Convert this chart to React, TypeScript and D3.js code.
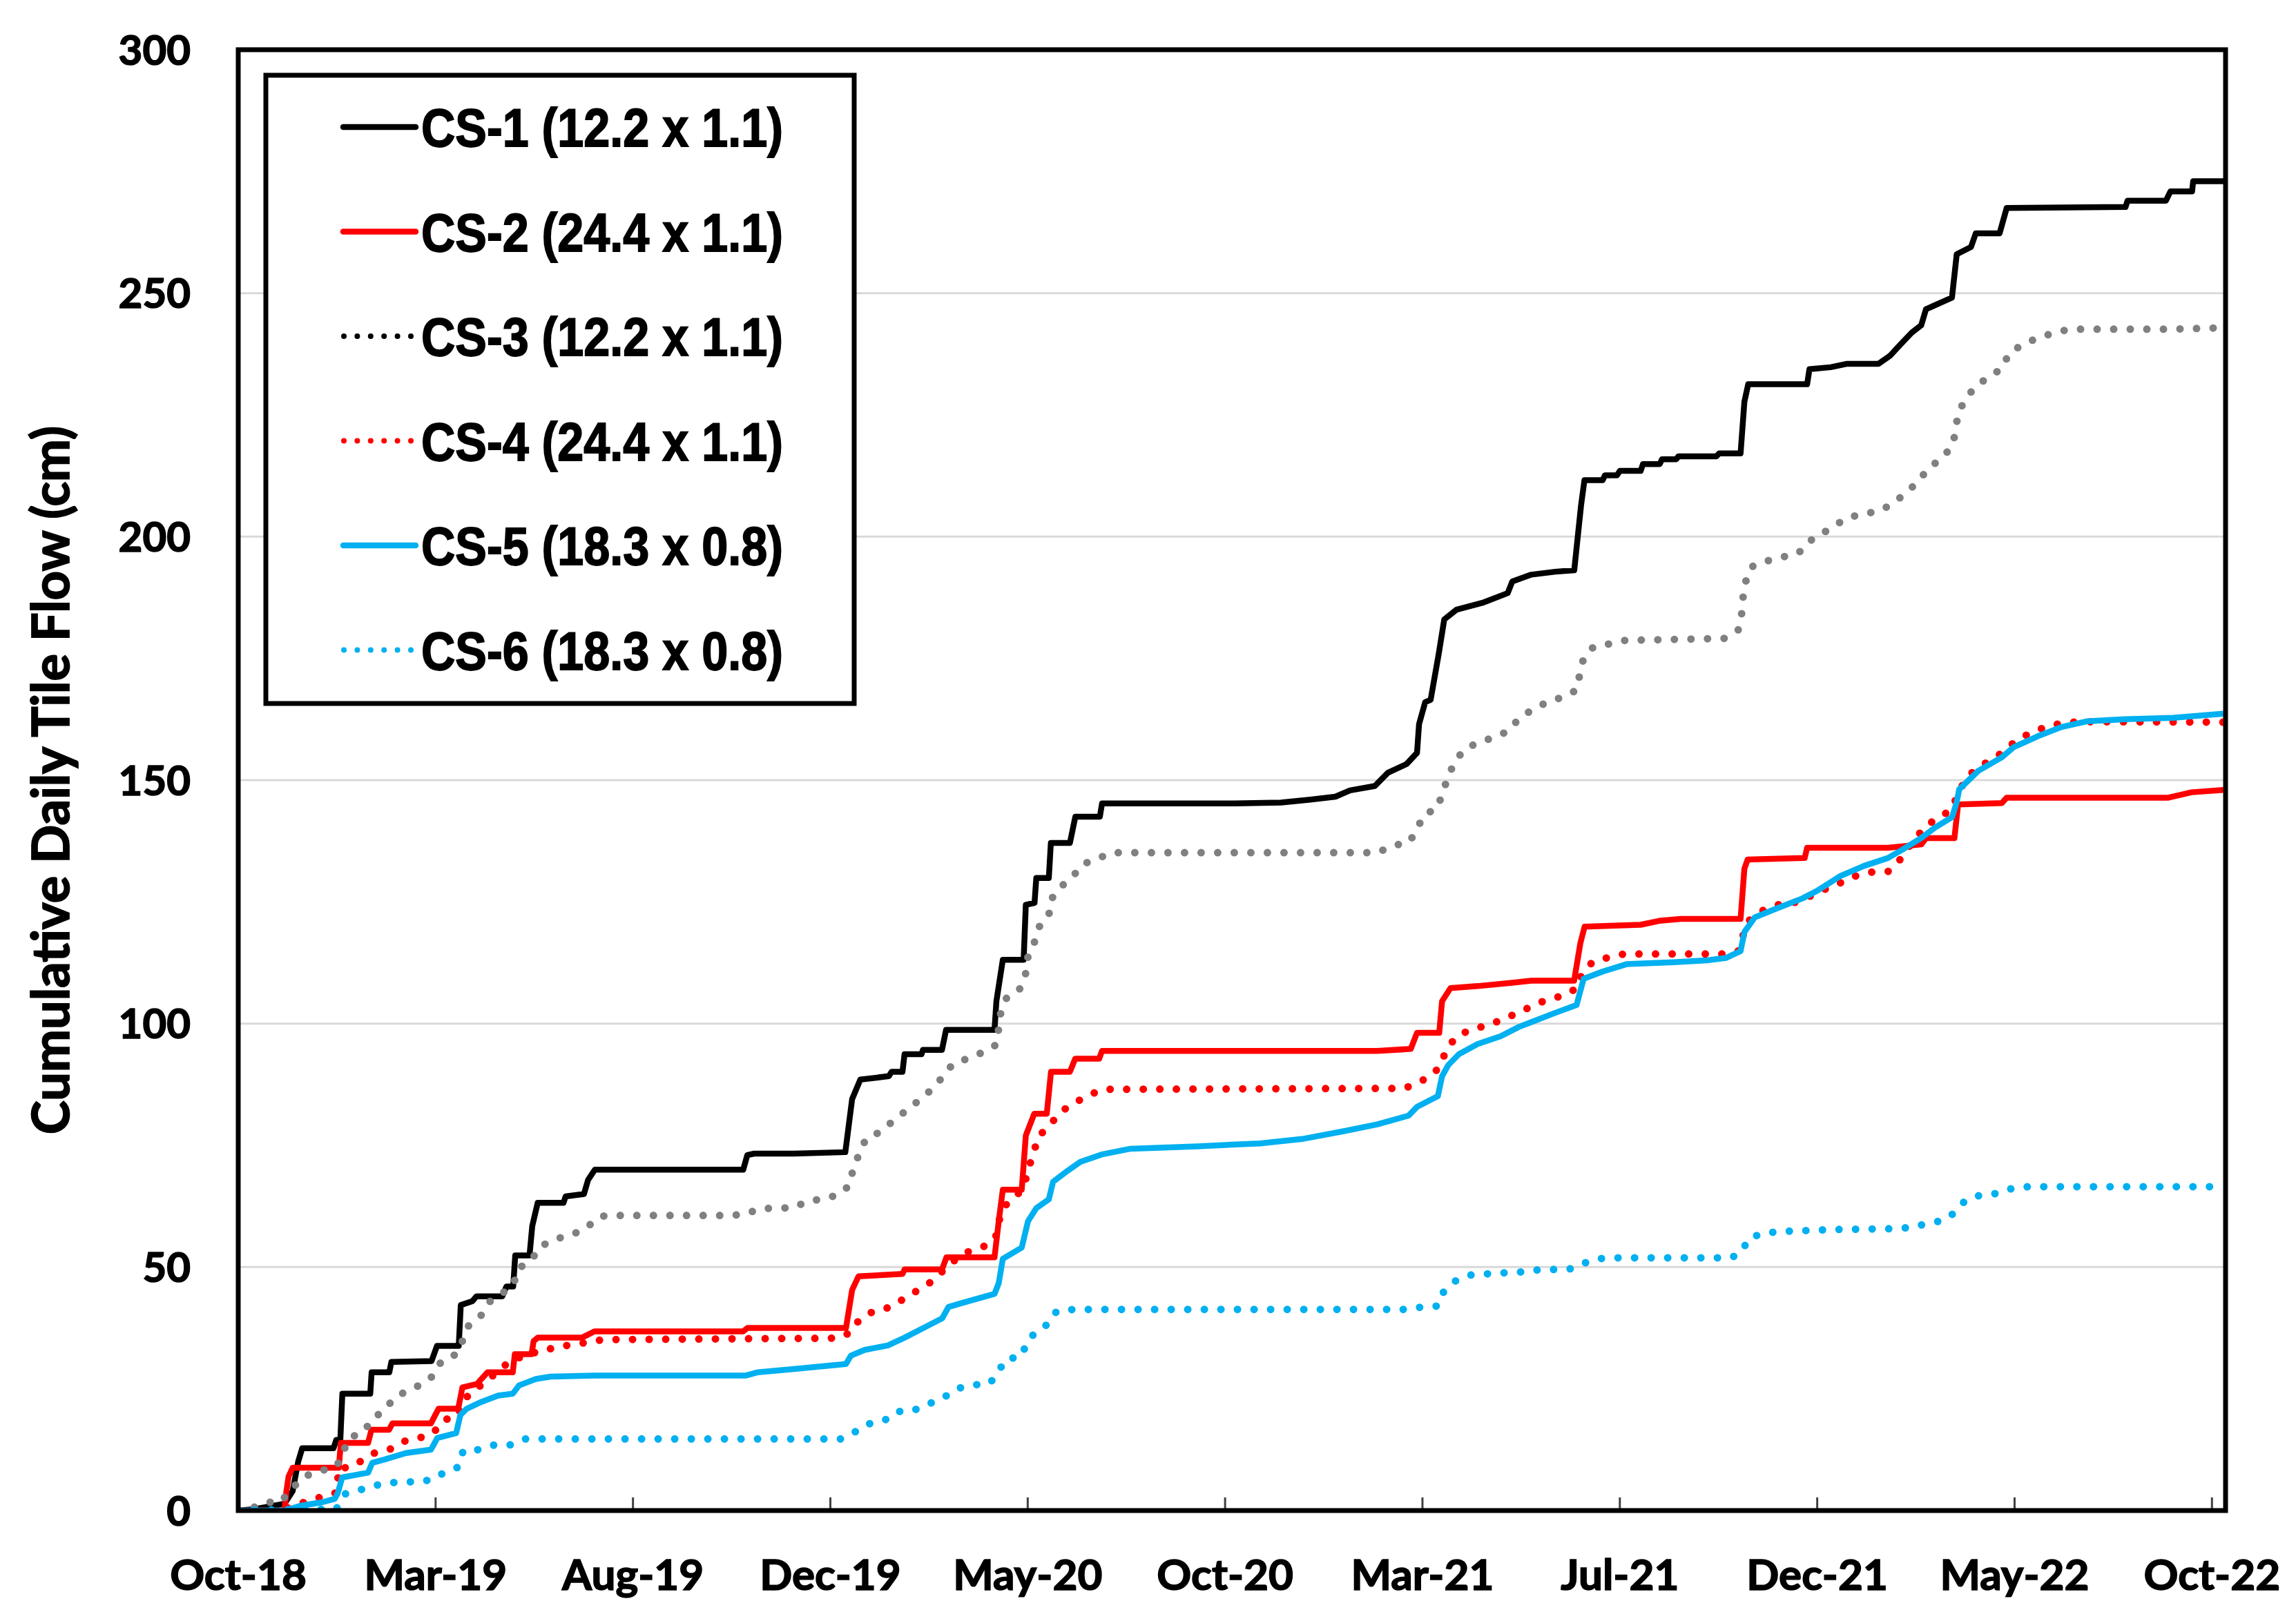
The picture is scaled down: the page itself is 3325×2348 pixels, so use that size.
import React from "react";
import * as d3 from "d3";

// Days since the axis start (17 Oct 2018) and cumulative tile flow (cm)
const START = new Date(2018, 9, 17);
const AXIS_DAYS = 1460;
const tickDays = [0, 145, 290, 435, 580, 725, 870, 1015, 1160, 1305, 1450];
const tickLabels = ["Oct-18", "Mar-19", "Aug-19", "Dec-19", "May-20", "Oct-20", "Mar-21", "Jul-21", "Dec-21", "May-22", "Oct-22"];
const yTicks = [0, 50, 100, 150, 200, 250, 300];

const cs1: [number, number][] = [[0,0],[12,0.3],[34,1.4],[40,4],[44,10],[47,12.8],[70,12.8],[72,14.5],[75,14.5],[76.5,24],[97,24],[98,28.4],[111,28.4],[112.5,30.5],[142,30.7],[146,33.8],[162,33.8],[163.5,42.2],[172,43],[175,44],[194,44],[197,46],[202,46],[203.5,52.4],[214,52.4],[216,58.4],[220,63.2],[239,63.2],[240.5,64.5],[254,65],[257,67.9],[262,70],[371,70],[374,73],[379,73.3],[408,73.3],[446,73.6],[451,84.5],[457,88.5],[478,89.2],[480,90.1],[488,90.1],[489.5,93.7],[502,93.7],[503,94.6],[517,94.6],[520,98.7],[555.6,98.7],[557,104.6],[561.7,113.1],[577,113.1],[578.6,124.4],[585,124.8],[586.3,129.9],[595.5,129.9],[597,137.1],[611,137.1],[615,142.5],[633,142.5],[634.6,145.2],[732,145.2],[766,145.4],[787.6,146],[806,146.6],[816.8,147.9],[835,148.8],[844.5,151.5],[858.3,153.3],[866,155.6],[867.5,161.5],[872,166],[876,166.5],[882,176],[886,183],[895,185],[915,186.5],[932.6,188.4],[936,190.8],[950,192.2],[967.5,192.8],[981.5,193.1],[986.5,206.4],[989,211.6],[1002.4,211.6],[1004,212.6],[1012.9,212.6],[1015,213.5],[1030.3,213.5],[1032,214.9],[1044.3,214.9],[1046,215.9],[1056.5,215.9],[1058,216.5],[1086,216.5],[1088,217.1],[1103.7,217.1],[1106.5,227.7],[1109.3,231.3],[1152.6,231.3],[1154.3,234.4],[1170,234.8],[1182,235.5],[1205,235.5],[1213.7,237.2],[1220.6,239.3],[1229.4,241.9],[1236.4,243.4],[1239.9,246.7],[1259,249.1],[1262.5,258],[1273,259.5],[1276.5,262.3],[1294,262.3],[1299.2,267.5],[1386.5,267.7],[1388,269],[1416.2,269],[1419.5,270.9],[1435.4,270.9],[1436.2,273],[1460,273]];

const cs2: [number, number][] = [[0,0],[34,0],[35.4,4],[37,7],[40,8.8],[73.9,8.8],[75.4,13.9],[95.4,13.9],[97.9,16.6],[110.8,16.6],[113.3,17.9],[141.6,17.9],[144.7,19.6],[147.2,20.9],[161.6,20.9],[164.7,25.3],[175.5,26],[178.6,27],[183.2,28.4],[201.7,28.4],[203.2,32.1],[215.5,32.1],[217,34.8],[220.1,35.5],[252.5,35.5],[261.7,36.8],[371,36.8],[374.1,37.5],[446.5,37.5],[451,45.3],[455.7,48.1],[488,48.6],[489.5,49.5],[517,49.5],[520.3,52],[555.6,52],[558.7,59.4],[561.7,65.9],[575.6,65.9],[578.6,77],[584.8,81.5],[594,81.5],[597.1,90.1],[611,90.1],[614.9,92.8],[632.5,92.8],[634.6,94.4],[836.8,94.4],[861.4,94.8],[866,98.1],[882.3,98.1],[884.4,104.6],[890.6,107.3],[910.5,107.7],[936,108.4],[950,108.8],[981.4,108.8],[986,116.5],[989.1,119.9],[1030.3,120.3],[1044,121.1],[1060,121.5],[1103.7,121.5],[1106.5,131.8],[1108.9,133.7],[1150.8,134],[1152.6,136.1],[1211.9,136.1],[1236.4,136.8],[1240,138.1],[1260.8,138.1],[1263.5,145],[1295.7,145.3],[1299.2,146.4],[1418,146.4],[1435,147.5],[1460,148]];

const cs3: [number, number][] = [[0,0],[10,0.5],[21.5,1.7],[31,1.7],[40,4.7],[49.3,7.1],[60,8.1],[72.4,9.1],[81.6,14.9],[92.4,16.2],[98.5,18.9],[107.8,20.6],[113.9,23],[124.7,24.7],[135.5,26],[143.2,27.7],[149.3,30.7],[160.1,32.1],[164.7,34.8],[168.7,37.8],[178,39.9],[184.7,42.9],[194,44.6],[202.3,46.5],[205.7,49.7],[215.5,51.4],[221.1,54.1],[232.5,55.7],[244.2,56.6],[254.9,57.8],[263.9,60.1],[270,60.6],[361.8,60.6],[372.6,60.9],[383.3,62],[408,62.2],[418.7,63.6],[431,64],[441.8,65],[449.5,66.9],[451.7,70.3],[456.3,73.3],[461.2,76.4],[472,77.8],[481,80],[491,82.2],[500,84.2],[509.5,86.5],[518,89.2],[524.9,91.7],[535.6,92.8],[547.9,94.2],[557.1,95.7],[558.7,99.1],[560.2,102.3],[564.8,105.5],[575,107.3],[578.6,110.4],[580.2,113.8],[584.8,116.6],[587.9,119.7],[595.5,122.2],[597.1,125.5],[604.8,128.2],[613.4,130.3],[620.1,132.7],[631.5,133.9],[641.6,135.1],[836.8,135.1],[848.5,136.6],[859.8,137.1],[866,139.8],[870.6,142.8],[881.3,144.3],[884.6,147.5],[889,150.6],[893,153.5],[900.4,156.2],[910.5,157.7],[922,158.7],[933.3,160.1],[941.3,162.8],[951,164.5],[962.2,166.1],[973.8,167.1],[983.2,168.5],[985.6,171.8],[988.4,175.1],[995.4,177.3],[1007.6,178],[1018.8,178.7],[1091.5,179.1],[1101.9,180.8],[1104.4,183.9],[1105.4,187.3],[1107.2,190.6],[1111.7,193.8],[1122.9,195],[1134.4,195.8],[1146.3,196.6],[1152.6,198.8],[1163,200.5],[1172.8,202.3],[1183.3,204],[1195.2,204.7],[1206.7,205.4],[1216.1,206.9],[1225.2,209],[1234.6,211.4],[1241.6,214.1],[1251,215.9],[1259.1,218.6],[1261.9,221.8],[1263.2,225.1],[1268.5,228.1],[1275.5,230.6],[1285.3,232.7],[1295.7,234.5],[1301,237.7],[1310.7,239.4],[1321.9,240.8],[1333.4,241.8],[1345.3,242.6],[1418,242.6],[1460,242.9]];

const cs4: [number, number][] = [[0,0],[30,0],[45,1.4],[60,2.7],[72.4,3.7],[73.9,8.8],[81.6,8.8],[92.4,10.5],[100,11.8],[110.8,12.5],[121.6,14.2],[133,14.9],[143.2,15.9],[150.9,18.6],[160.7,19.3],[164.7,22.3],[172.4,24.7],[182.6,26.4],[189.4,28.4],[203.2,31.4],[211,31.4],[220.1,32.8],[233,33.4],[244.8,34.1],[256.2,34.5],[267.9,35.1],[440.3,35.4],[449.5,36.5],[456.3,39.2],[466.5,40.9],[479.7,41.8],[489.5,43.6],[500.3,45.4],[510.4,47.2],[518.7,49.5],[526.4,51.4],[537.2,53.3],[549.5,54.4],[556.5,56.2],[558.7,59.4],[563.3,62.6],[572.5,64.8],[578,67.5],[581.1,70.7],[584.8,73.8],[587.3,76.6],[596.5,79.3],[604.8,82],[614.9,83.8],[624.7,85.3],[635.5,86.5],[856.8,86.7],[866,87.8],[876.1,89.2],[882.9,91.2],[886.9,94.2],[894.5,97.3],[905,98.7],[916.7,99.6],[929,100.8],[939,102.1],[950,103.5],[961.2,104.9],[972.7,105.7],[983.2,107.2],[986.7,109.9],[994.7,112.6],[1006.6,113.6],[1018.1,114.3],[1091.5,114.3],[1101.9,114.9],[1105.4,118],[1110.7,121.5],[1121.1,123.4],[1132.3,124.5],[1143.8,124.9],[1154.3,126.1],[1165.8,127.6],[1177,128.9],[1188.2,130.3],[1199.7,131.1],[1211.9,131.2],[1219.6,133.2],[1227.6,136.4],[1239.9,140.7],[1250.3,142.4],[1259.1,144.1],[1262.5,146.6],[1269.5,150.5],[1279,152.8],[1290.5,154.5],[1308,158.5],[1319.5,160],[1330.6,161.2],[1342.9,161.8],[1355,162],[1460,161.9]];

const cs5: [number, number][] = [[0,0],[34,0],[46.2,1],[61.6,1.7],[70.8,2.4],[73,3.5],[76.4,6.8],[87.8,7.4],[95.4,7.8],[98.5,9.8],[107.8,10.5],[123.2,11.8],[141.6,12.5],[146.3,14.9],[160.1,15.9],[163.2,19.6],[167.8,20.9],[178.6,22.3],[190.9,23.6],[201.7,24],[206.3,25.7],[218.6,27],[229.4,27.5],[261.7,27.7],[372.6,27.7],[381.8,28.4],[409.5,29.1],[446.5,30.1],[450.1,31.8],[460.3,33],[477.2,33.9],[489.5,35.5],[504.9,37.7],[517.2,39.5],[521.8,41.8],[532.6,42.7],[555.6,44.5],[558.7,46.7],[561.7,51.7],[575.6,54],[580.2,59.4],[586.3,62.1],[595.5,63.9],[598.6,67.5],[609.4,69.8],[618.6,71.6],[634,73.1],[655.5,74.3],[704.6,74.8],[750.7,75.4],[781.5,76.3],[812.2,77.9],[836.8,79.3],[859.8,81.1],[866,82.9],[881.3,85.1],[884.4,89.2],[889,91.5],[896.7,93.7],[910.5,95.8],[927.4,97.4],[940.7,99.3],[950,100.3],[967.5,102.2],[983.2,103.8],[988.4,109.2],[1002.4,110.7],[1019.9,112.2],[1054.8,112.6],[1079.2,113],[1093.2,113.5],[1103.7,114.9],[1106.5,118.8],[1114.1,121.8],[1131.6,123.8],[1149.1,125.7],[1159.5,127.2],[1177,130.3],[1194.5,132.4],[1211.9,134],[1222.4,135.7],[1236.4,138.1],[1246.8,140.3],[1259.1,142.4],[1262.5,145.5],[1264.3,148.1],[1278.3,151.9],[1295.7,154.7],[1304.5,156.8],[1321.9,159],[1339.4,160.9],[1358.6,162.1],[1386.5,162.5],[1421.4,162.8],[1460,163.7]];

const cs6: [number, number][] = [[0,0],[40,0.2],[72,0.3],[78.5,3.4],[87.8,4.1],[97,4.9],[107.8,5.6],[120.1,5.9],[132.4,5.9],[143.2,6.4],[152.4,8],[161.6,8.9],[165.3,12.3],[177,12.5],[188.4,13.5],[200.1,13.5],[210.3,14.7],[442.4,14.7],[451.7,15.9],[461.9,17.7],[472.6,18.4],[481.9,19.3],[486.5,20.5],[497.2,20.7],[507.4,21.9],[518.7,23.3],[528.9,25.1],[540.2,25.8],[551.6,26],[557.7,28],[563.3,31],[575.6,31.7],[579.3,34.6],[586.3,36.8],[595.5,38.4],[601.1,40.9],[613.4,41.3],[858.3,41.3],[869.7,41.8],[881.3,42],[885.3,44.8],[894.5,47.2],[905.9,48.4],[917.3,48.6],[929,48.8],[942.3,49],[954.2,49.4],[978,49.6],[987.7,50.7],[998.2,51.7],[1009.4,51.9],[1096.7,51.9],[1104.4,53],[1109.6,55.9],[1121.1,57],[1133.4,57.3],[1170,57.7],[1218.2,57.9],[1230.4,58.2],[1241.6,59],[1253.1,59.6],[1261.5,61.3],[1268.5,63.6],[1280,64.8],[1291.5,65.1],[1302.7,66.1],[1314.9,66.5],[1460,66.5]];

const seriesNames = ["CS-1 (12.2 x 1.1)", "CS-2 (24.4 x 1.1)", "CS-3 (12.2 x 1.1)", "CS-4 (24.4 x 1.1)", "CS-5 (18.3 x 0.8)", "CS-6 (18.3 x 0.8)"];
const seriesData = [cs1, cs2, cs3, cs4, cs5, cs6];
const seriesColors = ["#000000", "#FF0000", "#808080", "#FF0000", "#00B0F0", "#00B0F0"];
const legendColors = ["#000000", "#FF0000", "#000000", "#FF0000", "#00B0F0", "#00B0F0"];
const seriesDotted = [false, false, true, true, false, true];

const W = 3325;
const H = 2348;
const M = { left: 345, right: 3223, top: 72, bottom: 2188 };

const dayToDate = (d: number) => new Date(START.getTime() + d * 86400000);

export default function App() {
  const x = d3.scaleTime().domain([START, dayToDate(AXIS_DAYS)]).range([M.left, M.right]);
  const y = d3.scaleLinear().domain([0, 300]).range([M.bottom, M.top]);
  const line = d3
    .line<[number, number]>()
    .x((p) => x(dayToDate(p[0])))
    .y((p) => y(p[1]));

  const axisFont = "Lato, 'Open Sans', sans-serif";
  const legendX = 385, legendY = 109, legendW = 852, legendH = 910;
  const legendRow0 = 184, legendStep = 151.5;

  return (
    <div style={{ position: "absolute", left: 0, top: 0 }}>
      <svg width={W} height={H} viewBox={`0 0 ${W} ${H}`} style={{ display: "block", background: "#fff" }}>
        <rect x={0} y={0} width={W} height={H} fill="#fff" />
        <defs>
          <clipPath id="plotClip">
            <rect x={M.left} y={M.top - 10} width={M.right - M.left} height={M.bottom - M.top + 10} />
          </clipPath>
        </defs>
        {/* gridlines */}
        {yTicks.filter((t) => t > 0 && t < 300).map((t) => (
          <line key={t} x1={M.left} x2={M.right} y1={y(t)} y2={y(t)} stroke="#d9d9d9" strokeWidth={3} />
        ))}
        {/* series */}
        <g clipPath="url(#plotClip)">
          {seriesData.map((data, i) => (
            <path
              key={i}
              d={line(data) || ""}
              fill="none"
              stroke={seriesColors[i]}
              strokeWidth={seriesDotted[i] ? 11 : 8.5}
              strokeLinecap="round"
              strokeLinejoin="round"
              strokeDasharray={seriesDotted[i] ? "0 24" : undefined}
            />
          ))}
        </g>
        {/* x ticks */}
        {tickDays.map((d) => (
          <line key={d} x1={x(dayToDate(d))} x2={x(dayToDate(d))} y1={M.bottom} y2={M.bottom - 19} stroke="#404040" strokeWidth={3} />
        ))}
        {/* frame */}
        <rect x={M.left} y={M.top} width={M.right - M.left} height={M.bottom - M.top} fill="none" stroke="#000" strokeWidth={7} />
        {/* y tick labels */}
        {yTicks.map((t) => (
          <text key={t} x={276} y={y(t)} dy="0.36em" textAnchor="end" fontFamily={axisFont} fontWeight={700} fontSize={60} fill="#000" stroke="#000" strokeWidth={1.6}>
            {t}
          </text>
        ))}
        {/* x tick labels */}
        {tickDays.map((d, i) => (
          <text key={d} x={x(dayToDate(d))} y={2303} textAnchor="middle" fontFamily={axisFont} fontWeight={700} fontSize={62} fill="#000" stroke="#000" strokeWidth={1.6}>
            {tickLabels[i]}
          </text>
        ))}
        {/* y axis title */}
        <text
          transform={`translate(100, ${(M.top + M.bottom) / 2}) rotate(-90)`}
          textAnchor="middle"
          fontFamily={axisFont}
          fontWeight={700}
          fontSize={74}
          fill="#000"
          stroke="#000"
          strokeWidth={1.8}
        >
          Cumulative Daily Tile Flow (cm)
        </text>
        {/* legend */}
        <rect x={legendX} y={legendY} width={legendW} height={legendH} fill="#fff" stroke="#000" strokeWidth={7} />
        {seriesNames.map((name, i) => {
          const cy = legendRow0 + i * legendStep;
          return (
            <g key={name}>
              <line
                x1={seriesDotted[i] ? 498 : 497}
                x2={seriesDotted[i] ? 595 : 602}
                y1={cy}
                y2={cy}
                stroke={legendColors[i]}
                strokeWidth={seriesDotted[i] ? 8 : 8.5}
                strokeLinecap="round"
                strokeDasharray={seriesDotted[i] ? "0 19.4" : undefined}
              />
              <text
                x={610}
                y={cy + 28}
                fontFamily="'Liberation Sans', Arial, sans-serif"
                fontWeight={700}
                fontSize={78}
                textLength={524}
                lengthAdjust="spacingAndGlyphs"
                fill="#000"
                stroke="#000"
                strokeWidth={1.8}
              >
                {name}
              </text>
            </g>
          );
        })}
      </svg>
    </div>
  );
}
